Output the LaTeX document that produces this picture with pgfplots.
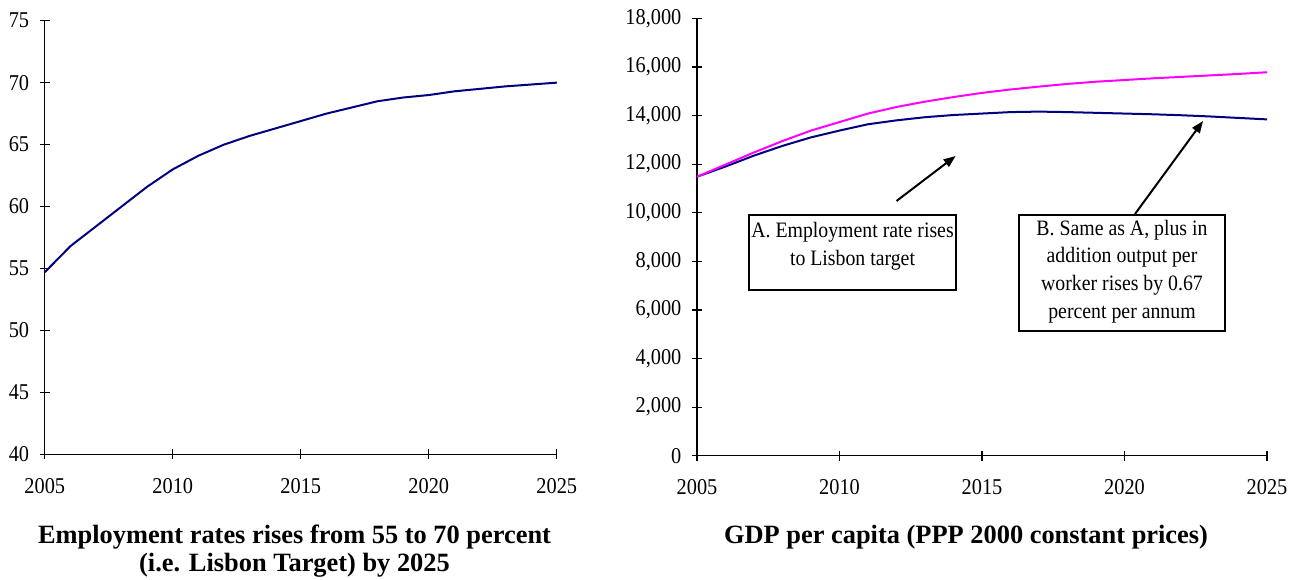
\documentclass[border=0pt]{standalone}
\usepackage{fontspec}
\setmainfont{Liberation Serif}[FakeStretch=0.9]
\newfontfamily\titlefont{Liberation Serif}
\usepackage{pgfplots}
\pgfplotsset{compat=1.18}
\usetikzlibrary{arrows.meta}

\definecolor{navyline}{RGB}{0,0,128}
\definecolor{magline}{RGB}{255,0,255}

% employment rate, percent
\pgfplotstableread{
year rate
2005 54.7
2006 56.8
2007 58.4
2008 60.0
2009 61.6
2010 63.0
2011 64.1
2012 65.0
2013 65.7
2014 66.3
2015 66.9
2016 67.5
2017 68.0
2018 68.5
2019 68.8
2020 69.0
2021 69.3
2022 69.5
2023 69.7
2024 69.85
2025 70.0
}\emptable

% GDP per capita, scenario A and scenario B
\pgfplotstableread{
year A B
2005 11480 11480
2006 11900 11980
2007 12350 12480
2008 12750 12950
2009 13100 13380
2010 13380 13730
2011 13640 14080
2012 13800 14350
2013 13930 14570
2014 14020 14760
2015 14080 14930
2016 14140 15070
2017 14160 15190
2018 14140 15300
2019 14110 15390
2020 14080 15460
2021 14050 15530
2022 14010 15590
2023 13960 15650
2024 13900 15710
2025 13840 15780
}\gdptable

\pgfplotsset{
  panel/.style={
    scale only axis,
    axis x line=bottom, axis y line=left,
    axis line style={-, line width=0.6pt, black},
    tick align=center, major tick length=5pt,
    tick style={black, line width=0.6pt},
    xmin=2005, xmax=2025, xtick={2005,2010,...,2025},
    tick label style={font=\fontsize{11.3}{13}\selectfont},
    /pgf/number format/assume math mode=true,
    /pgf/number format/1000 sep={,},
    xticklabel style={/pgf/number format/1000 sep={}, yshift=-6pt},
    yticklabel style={xshift=-1.8pt},
    enlargelimits=false, clip=false,
  },
  series/.style={line width=1pt, mark=none},
}
\tikzset{
  caption/.style={font=\titlefont\bfseries\fontsize{13.2}{15}\selectfont, anchor=base},
}

\begin{document}
\begin{tikzpicture}
\useasboundingbox (0pt,0pt) rectangle (647.5pt,289.5pt);

\begin{axis}[panel, at={(22.4pt,62.35pt)}, anchor=south west,
  width=256pt, height=216.8pt,
  ymin=40, ymax=75, ytick={40,45,...,75}]
  \addplot[series, navyline] table[x=year, y=rate] {\emptable};
\end{axis}

\begin{axis}[panel, at={(348.5pt,61.65pt)}, anchor=south west,
  width=285pt, height=218.7pt,
  ymin=0, ymax=18000, ytick={0,2000,...,18000}, scaled y ticks=false]
  \addplot[series, navyline] table[x=year, y=A] {\gdptable};
  \addplot[series, magline] table[x=year, y=B] {\gdptable};
\end{axis}

% panel captions
\node[caption] at (147.25pt,18pt) {Employment rates rises from 55 to 70 percent};
\node[caption] at (147.25pt,3.8pt) {(i.e. Lisbon Target) by 2025};
\node[caption] at (483pt,18pt) {GDP per capita (PPP 2000 constant prices)};

% scenario call-outs
\draw[line width=0.8pt] (374.5pt,144.5pt) rectangle (478pt,182pt);
\node[align=center, font=\fontsize{11}{14}\selectfont] at (426.25pt,166.5pt)
  {A. Employment rate rises\\to Lisbon target};
\draw[line width=0.8pt] (509.5pt,124pt) rectangle (612.5pt,182pt);
\node[align=center, font=\fontsize{11}{13.8}\selectfont] at (561pt,153.75pt)
  {B. Same as A, plus in\\addition output per\\worker rises by 0.67\\percent per annum};
\draw[-{Triangle[length=6pt,width=4.5pt]}, line width=1pt]
  (448.25pt,189pt) -- (477.8pt,211.5pt);
\draw[-{Triangle[length=6pt,width=4.5pt]}, line width=1pt]
  (567.5pt,182.5pt) -- (601.5pt,229pt);
\end{tikzpicture}
\end{document}
